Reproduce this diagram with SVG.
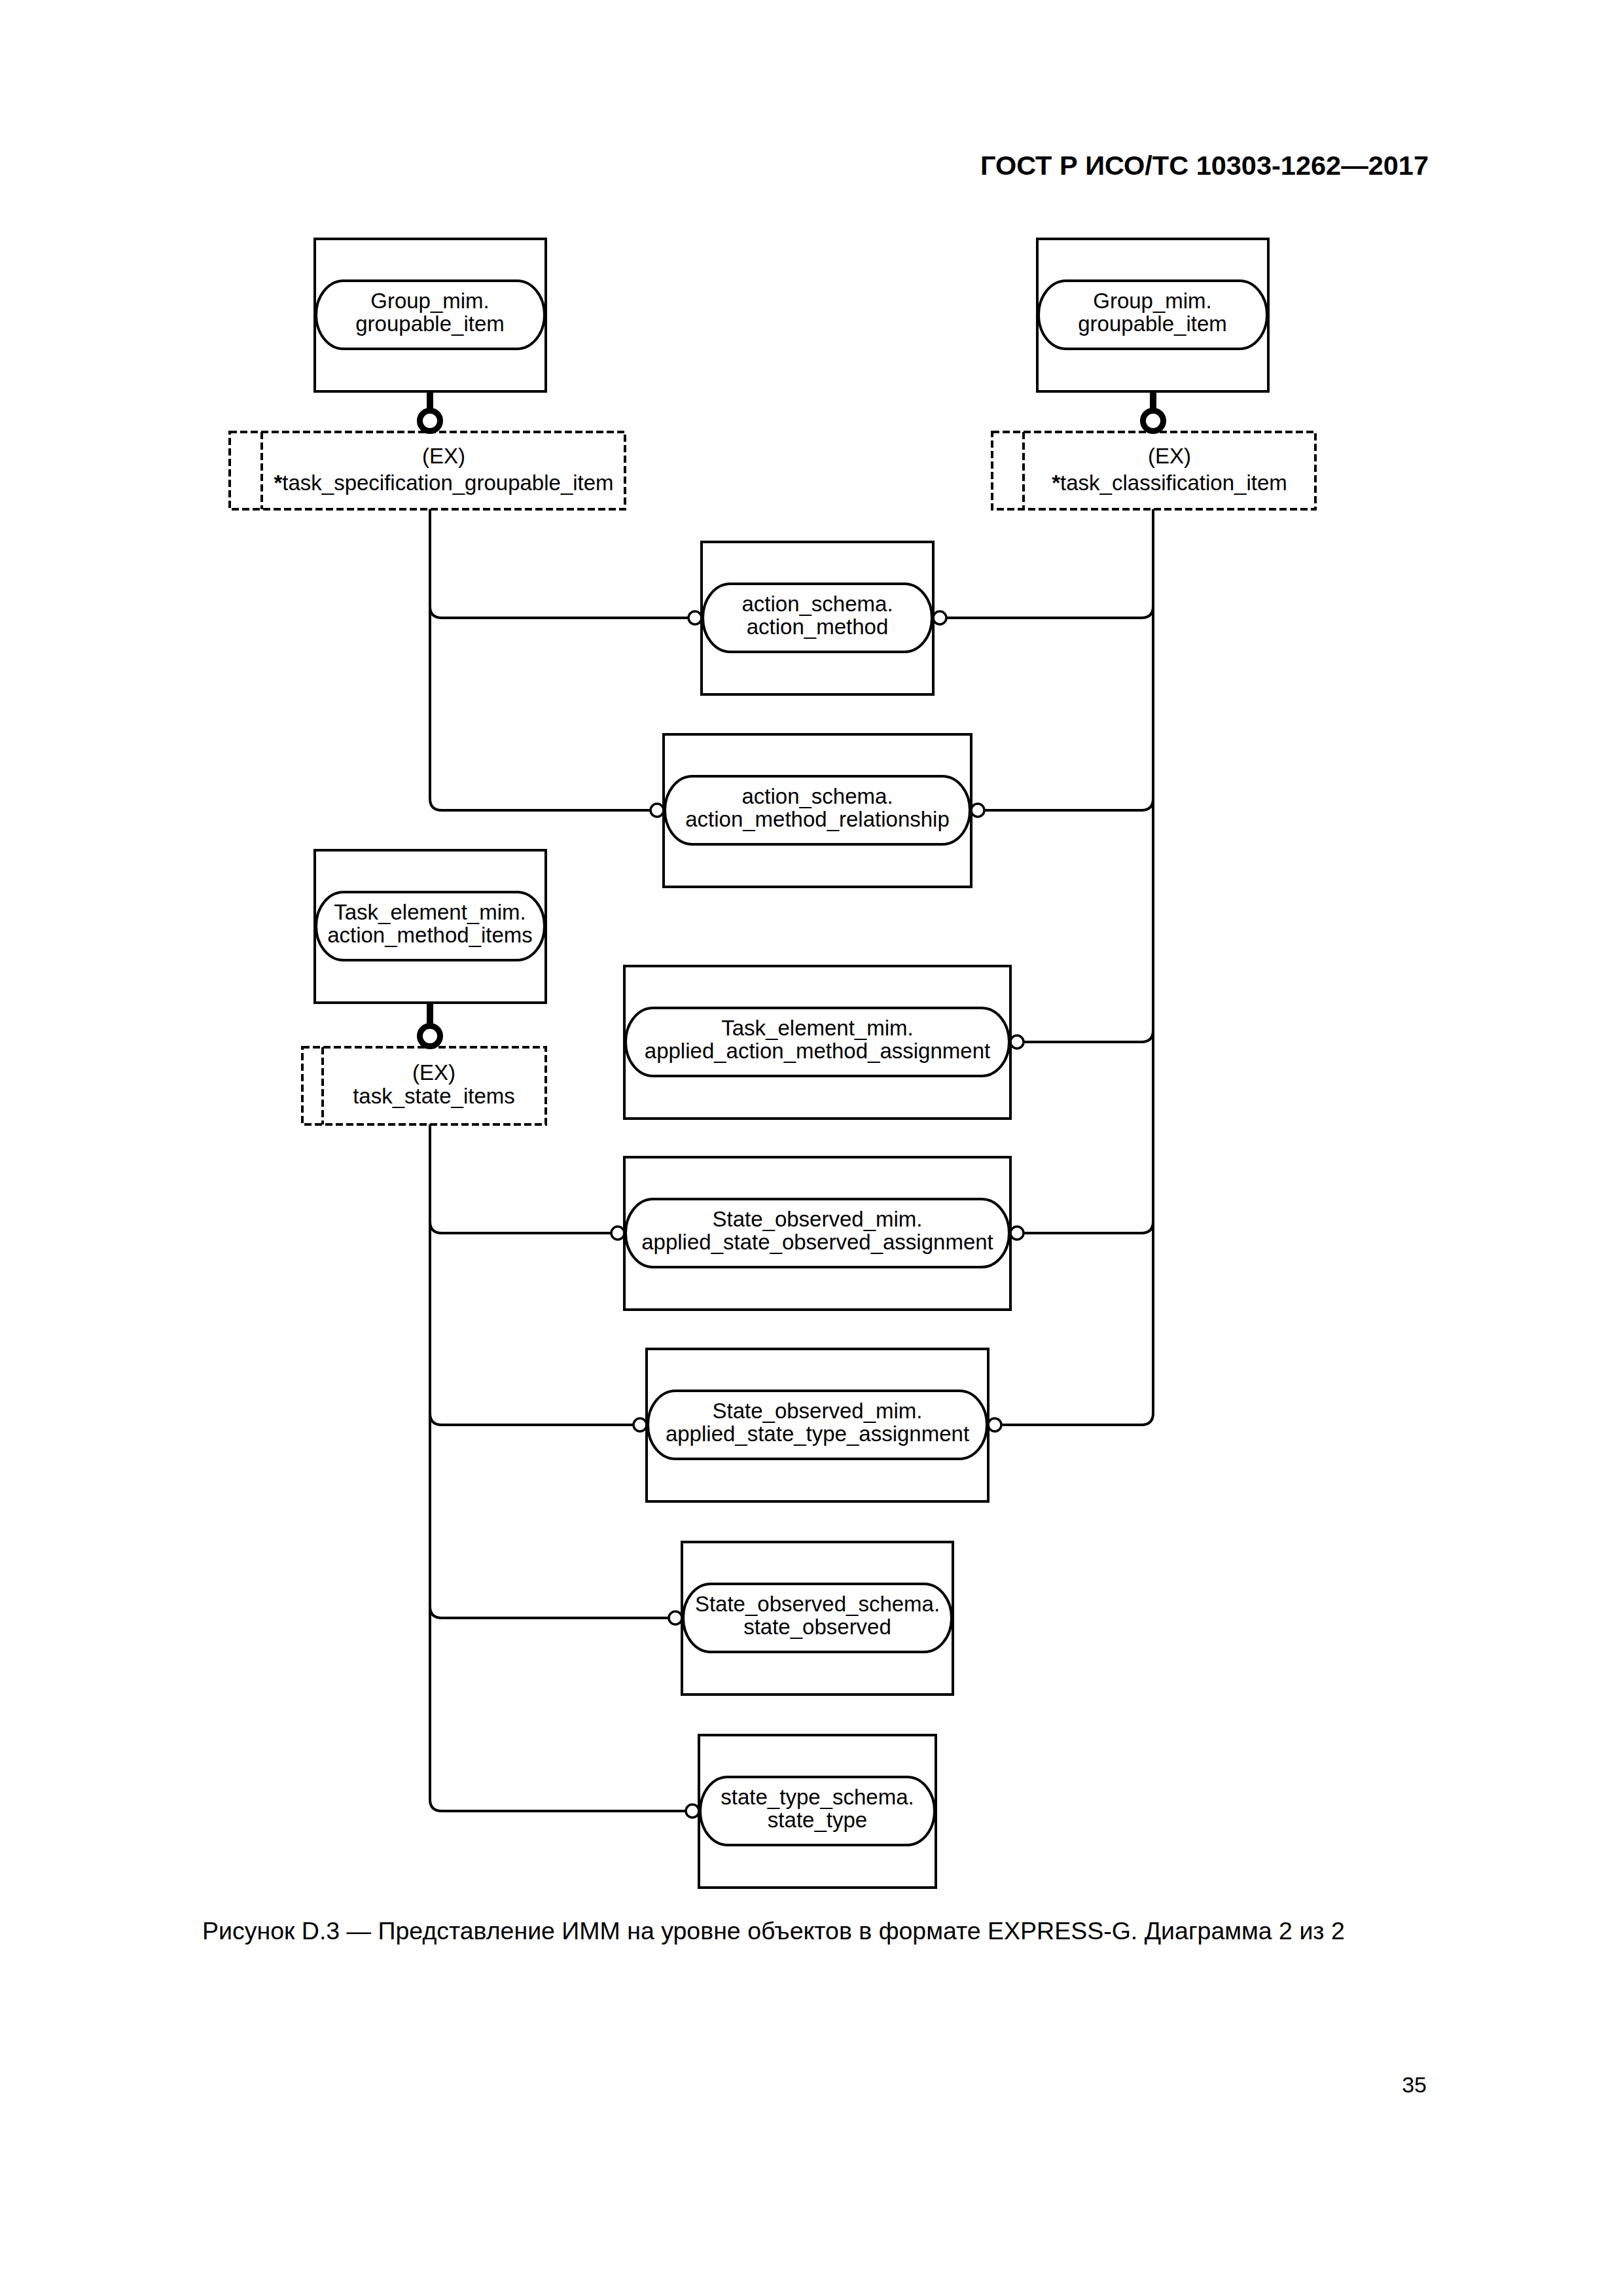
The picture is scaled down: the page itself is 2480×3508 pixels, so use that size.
<svg xmlns="http://www.w3.org/2000/svg" width="2480" height="3508" viewBox="0 0 2480 3508">
<style>
.bg{fill:#fff}
.box{fill:none;stroke:#000;stroke-width:4}
.pill{fill:#fff;stroke:#000;stroke-width:4}
.sel{fill:none;stroke:#000;stroke-width:4;stroke-dasharray:11 5}
.ln{fill:none;stroke:#000;stroke-width:4}
.oc{fill:#fff;stroke:#000;stroke-width:3.5}
.thick{stroke:#000;stroke-width:10}
.tc{fill:#fff;stroke:#000;stroke-width:9}
text{font-family:"Liberation Sans",Arial,sans-serif;fill:#000}
.t{font-size:33px;text-anchor:middle}
.hdr{font-size:41.5px;font-weight:bold;text-anchor:end}
.cap{font-size:37.5px}
.pg{font-size:34px;text-anchor:end}
</style>
<rect class="bg" x="0" y="0" width="2480" height="3508"/>
<text class="hdr" x="2183" y="267">ГОСТ Р ИСО/ТС 10303-1262—2017</text>

<g id="connectors">
  <path class="ln" d="M657 778 V926 Q657 944 675 944 H1052"/>
  <path class="ln" d="M657 778 V1220 Q657 1238 675 1238 H994"/>
  <path class="ln" d="M1762 778 V926 Q1762 944 1744 944 H1446"/>
  <path class="ln" d="M1762 778 V1220 Q1762 1238 1744 1238 H1504"/>
  <path class="ln" d="M1762 778 V1574 Q1762 1592 1744 1592 H1564"/>
  <path class="ln" d="M1762 778 V1866 Q1762 1884 1744 1884 H1564"/>
  <path class="ln" d="M1762 778 V2159 Q1762 2177 1744 2177 H1530"/>
  <path class="ln" d="M657 1718 V1866 Q657 1884 675 1884 H934"/>
  <path class="ln" d="M657 1718 V2159 Q657 2177 675 2177 H968"/>
  <path class="ln" d="M657 1718 V2454 Q657 2472 675 2472 H1022"/>
  <path class="ln" d="M657 1718 V2749 Q657 2767 675 2767 H1048"/>
  <circle class="oc" cx="1062" cy="944" r="10"/>
  <circle class="oc" cx="1436" cy="944" r="10"/>
  <circle class="oc" cx="1004" cy="1238" r="10"/>
  <circle class="oc" cx="1494" cy="1238" r="10"/>
  <circle class="oc" cx="1554" cy="1592" r="10"/>
  <circle class="oc" cx="944" cy="1884" r="10"/>
  <circle class="oc" cx="1554" cy="1884" r="10"/>
  <circle class="oc" cx="978" cy="2177" r="10"/>
  <circle class="oc" cx="1520" cy="2177" r="10"/>
  <circle class="oc" cx="1032" cy="2472" r="10"/>
  <circle class="oc" cx="1058" cy="2767" r="10"/>
  <line class="thick" x1="657" y1="598" x2="657" y2="626"/>
  <circle class="tc" cx="657" cy="643" r="15.5"/>
  <line class="thick" x1="1762" y1="598" x2="1762" y2="626"/>
  <circle class="tc" cx="1762" cy="643" r="15.5"/>
  <line class="thick" x1="657" y1="1532" x2="657" y2="1566"/>
  <circle class="tc" cx="657" cy="1583" r="15.5"/>
</g>

<g id="group_mim_left">
  <rect class="box" x="481" y="365" width="353" height="233"/>
  <rect class="pill" x="483" y="429" width="349" height="104" rx="42" ry="52"/>
  <text class="t" x="657" y="471">Group_mim.</text>
  <text class="t" x="657" y="506">groupable_item</text>
</g>

<g id="group_mim_right">
  <rect class="box" x="1585" y="365" width="353" height="233"/>
  <rect class="pill" x="1587" y="429" width="349" height="104" rx="42" ry="52"/>
  <text class="t" x="1761" y="471">Group_mim.</text>
  <text class="t" x="1761" y="506">groupable_item</text>
</g>

<g id="task_specification_groupable_item">
  <rect class="sel" x="351" y="660" width="604" height="118"/>
  <line class="sel" x1="400" y1="660" x2="400" y2="778"/>
  <text class="t" x="678" y="708">(EX)</text>
  <text class="t" x="678" y="749"><tspan font-weight="bold">*</tspan>task_specification_groupable_item</text>
</g>

<g id="task_classification_item">
  <rect class="sel" x="1516" y="660" width="494" height="118"/>
  <line class="sel" x1="1564" y1="660" x2="1564" y2="778"/>
  <text class="t" x="1787" y="708">(EX)</text>
  <text class="t" x="1787" y="749"><tspan font-weight="bold">*</tspan>task_classification_item</text>
</g>

<g id="action_method">
  <rect class="box" x="1072" y="828" width="354" height="233"/>
  <rect class="pill" x="1074" y="892" width="350" height="104" rx="42" ry="52"/>
  <text class="t" x="1249" y="934">action_schema.</text>
  <text class="t" x="1249" y="969">action_method</text>
</g>

<g id="action_method_relationship">
  <rect class="box" x="1014" y="1122" width="470" height="233"/>
  <rect class="pill" x="1016" y="1186" width="466" height="104" rx="42" ry="52"/>
  <text class="t" x="1249" y="1228">action_schema.</text>
  <text class="t" x="1249" y="1263">action_method_relationship</text>
</g>

<g id="action_method_items">
  <rect class="box" x="481" y="1299" width="353" height="233"/>
  <rect class="pill" x="483" y="1363" width="349" height="104" rx="42" ry="52"/>
  <text class="t" x="657" y="1405">Task_element_mim.</text>
  <text class="t" x="657" y="1440">action_method_items</text>
</g>

<g id="task_state_items">
  <rect class="sel" x="462" y="1600" width="372" height="118"/>
  <line class="sel" x1="493" y1="1600" x2="493" y2="1718"/>
  <text class="t" x="663" y="1650">(EX)</text>
  <text class="t" x="663" y="1686">task_state_items</text>
</g>

<g id="applied_action_method_assignment">
  <rect class="box" x="954" y="1476" width="590" height="233"/>
  <rect class="pill" x="956" y="1540" width="586" height="104" rx="42" ry="52"/>
  <text class="t" x="1249" y="1582">Task_element_mim.</text>
  <text class="t" x="1249" y="1617">applied_action_method_assignment</text>
</g>

<g id="applied_state_observed_assignment">
  <rect class="box" x="954" y="1768" width="590" height="233"/>
  <rect class="pill" x="956" y="1832" width="586" height="104" rx="42" ry="52"/>
  <text class="t" x="1249" y="1874">State_observed_mim.</text>
  <text class="t" x="1249" y="1909">applied_state_observed_assignment</text>
</g>

<g id="applied_state_type_assignment">
  <rect class="box" x="988" y="2061" width="522" height="233"/>
  <rect class="pill" x="990" y="2125" width="518" height="104" rx="42" ry="52"/>
  <text class="t" x="1249" y="2167">State_observed_mim.</text>
  <text class="t" x="1249" y="2202">applied_state_type_assignment</text>
</g>

<g id="state_observed">
  <rect class="box" x="1042" y="2356" width="414" height="233"/>
  <rect class="pill" x="1044" y="2420" width="410" height="104" rx="42" ry="52"/>
  <text class="t" x="1249" y="2462">State_observed_schema.</text>
  <text class="t" x="1249" y="2497">state_observed</text>
</g>

<g id="state_type">
  <rect class="box" x="1068" y="2651" width="362" height="233"/>
  <rect class="pill" x="1070" y="2715" width="358" height="104" rx="42" ry="52"/>
  <text class="t" x="1249" y="2757">state_type_schema.</text>
  <text class="t" x="1249" y="2792">state_type</text>
</g>

<text class="cap" x="309" y="2963">Рисунок D.3 — Представление ИММ на уровне объектов в формате EXPRESS-G. Диаграмма 2 из 2</text>
<text class="pg" x="2180" y="3197">35</text>
</svg>
